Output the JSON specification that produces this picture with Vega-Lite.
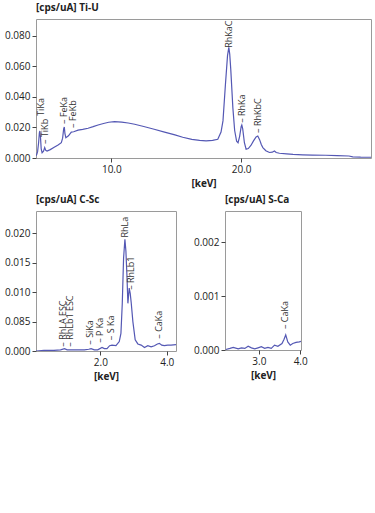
{
  "$schema": "https://vega.github.io/schema/vega-lite/v6.json",
  "background": "white",
  "padding": {"left": 4, "top": 2, "right": 5, "bottom": 5},
  "config": {
    "font": "Open Sans",
    "view": {"stroke": "#9a9a9a", "strokeWidth": 1},
    "axis": {"grid": false, "domain": false, "tickColor": "#444", "tickSize": 4, "labelFontSize": 10, "labelColor": "#222", "labelFont": "Open Sans", "titleFont": "Open Sans", "titleFontSize": 10, "titleFontWeight": "bold", "titleColor": "#222", "labelPadding": 2, "labelOverlap": false, "labelFlush": false},
    "title": {"anchor": "start", "frame": "group", "fontSize": 10, "fontWeight": "bold", "color": "#222", "offset": 6, "font": "Open Sans"},
    "text": {"font": "Open Sans", "fontSize": 9, "color": "#333"}
  },
  "datasets": {
    "tiu": [
      {"e":4.22,"c":0.0015},{"e":4.32,"c":0.004},{"e":4.40,"c":0.010},{"e":4.46,"c":0.0165},{"e":4.50,"c":0.0177},{"e":4.55,"c":0.013},{"e":4.60,"c":0.006},{"e":4.67,"c":0.0035},{"e":4.78,"c":0.0045},{"e":4.87,"c":0.0068},{"e":4.95,"c":0.005},{"e":5.05,"c":0.0046},{"e":5.3,"c":0.0055},{"e":5.6,"c":0.007},{"e":5.9,"c":0.0085},{"e":6.15,"c":0.010},{"e":6.25,"c":0.013},{"e":6.33,"c":0.019},{"e":6.38,"c":0.0203},{"e":6.43,"c":0.016},{"e":6.50,"c":0.0133},{"e":6.7,"c":0.0145},{"e":6.92,"c":0.017},{"e":7.1,"c":0.0172},{"e":7.44,"c":0.0182},{"e":7.8,"c":0.0187},{"e":8.21,"c":0.0195},{"e":8.6,"c":0.0205},{"e":8.98,"c":0.0216},{"e":9.4,"c":0.0226},{"e":9.8,"c":0.0234},{"e":10.25,"c":0.0238},{"e":10.8,"c":0.0235},{"e":11.3,"c":0.0229},{"e":11.8,"c":0.0221},{"e":12.5,"c":0.0206},{"e":13.3,"c":0.0188},{"e":14.1,"c":0.0169},{"e":14.9,"c":0.0151},{"e":15.5,"c":0.0136},{"e":16.2,"c":0.0122},{"e":16.8,"c":0.0116},{"e":17.3,"c":0.0112},{"e":17.8,"c":0.0115},{"e":18.2,"c":0.0123},{"e":18.45,"c":0.017},{"e":18.6,"c":0.0243},{"e":18.79,"c":0.0483},{"e":18.95,"c":0.067},{"e":19.05,"c":0.0724},{"e":19.12,"c":0.068},{"e":19.2,"c":0.058},{"e":19.36,"c":0.033},{"e":19.5,"c":0.018},{"e":19.65,"c":0.011},{"e":19.76,"c":0.010},{"e":19.88,"c":0.014},{"e":20.0,"c":0.0205},{"e":20.05,"c":0.0216},{"e":20.12,"c":0.019},{"e":20.25,"c":0.01},{"e":20.38,"c":0.0058},{"e":20.55,"c":0.0062},{"e":20.75,"c":0.0082},{"e":20.95,"c":0.0112},{"e":21.15,"c":0.0138},{"e":21.28,"c":0.0144},{"e":21.42,"c":0.012},{"e":21.55,"c":0.0088},{"e":21.67,"c":0.0068},{"e":21.9,"c":0.0048},{"e":22.18,"c":0.0036},{"e":22.4,"c":0.0038},{"e":22.56,"c":0.0046},{"e":22.7,"c":0.0036},{"e":22.95,"c":0.0031},{"e":23.5,"c":0.0027},{"e":24.0,"c":0.0024},{"e":24.74,"c":0.0021},{"e":25.5,"c":0.0019},{"e":26.5,"c":0.0018},{"e":27.4,"c":0.0016},{"e":28.3,"c":0.0013},{"e":28.6,"c":0.0008},{"e":29.2,"c":0.0006},{"e":30.0,"c":0.0005}
    ],
    "csc": [
      {"e":0.06,"c":0.0000},{"e":0.3,"c":0.0001},{"e":0.6,"c":0.0001},{"e":0.8,"c":0.0002},{"e":0.92,"c":0.0004},{"e":1.0,"c":0.0002},{"e":1.12,"c":0.0002},{"e":1.3,"c":0.0002},{"e":1.52,"c":0.0002},{"e":1.65,"c":0.0003},{"e":1.72,"c":0.0004},{"e":1.82,"c":0.0002},{"e":1.92,"c":0.0002},{"e":2.05,"c":0.0006},{"e":2.12,"c":0.0004},{"e":2.2,"c":0.0004},{"e":2.28,"c":0.0009},{"e":2.35,"c":0.001},{"e":2.47,"c":0.0009},{"e":2.57,"c":0.0016},{"e":2.62,"c":0.003},{"e":2.66,"c":0.008},{"e":2.70,"c":0.0158},{"e":2.74,"c":0.019},{"e":2.77,"c":0.017},{"e":2.80,"c":0.013},{"e":2.83,"c":0.0081},{"e":2.87,"c":0.0107},{"e":2.90,"c":0.0098},{"e":2.93,"c":0.0082},{"e":2.98,"c":0.005},{"e":3.05,"c":0.0019},{"e":3.13,"c":0.0012},{"e":3.23,"c":0.001},{"e":3.33,"c":0.0006},{"e":3.43,"c":0.0009},{"e":3.53,"c":0.0007},{"e":3.63,"c":0.0009},{"e":3.72,"c":0.0012},{"e":3.78,"c":0.0013},{"e":3.85,"c":0.001},{"e":3.93,"c":0.0009},{"e":4.03,"c":0.001},{"e":4.13,"c":0.001},{"e":4.28,"c":0.0011}
    ],
    "sca": [
      {"e":2.20,"c":0.00001},{"e":2.30,"c":0.00003},{"e":2.38,"c":0.00005},{"e":2.50,"c":0.00002},{"e":2.58,"c":0.00004},{"e":2.66,"c":0.00003},{"e":2.74,"c":0.00007},{"e":2.82,"c":0.00004},{"e":2.90,"c":0.00002},{"e":2.98,"c":0.00004},{"e":3.06,"c":0.00006},{"e":3.14,"c":0.00003},{"e":3.22,"c":0.00005},{"e":3.30,"c":0.00003},{"e":3.38,"c":0.00009},{"e":3.46,"c":0.00007},{"e":3.56,"c":0.00012},{"e":3.61,"c":0.0002},{"e":3.65,"c":0.00028},{"e":3.70,"c":0.00015},{"e":3.76,"c":0.00009},{"e":3.82,"c":0.00012},{"e":3.90,"c":0.00014},{"e":3.98,"c":0.00015},{"e":4.02,"c":0.00016}
    ],
    "lab1": [
      {"e":4.62,"c":0.0276,"t":"TiKa"},
      {"e":4.87,"c":0.0092,"t":"– TiKb"},
      {"e":6.33,"c":0.0223,"t":"– FeKa"},
      {"e":7.05,"c":0.0197,"t":"– FeKb"},
      {"e":19.05,"c":0.0722,"t":"RhKaC"},
      {"e":20.05,"c":0.023,"t":"– RhKa"},
      {"e":21.28,"c":0.0164,"t":"– RhKbC"}
    ],
    "lab2": [
      {"e":0.88,"c":0.00073,"t":"– RhLA ESC"},
      {"e":1.07,"c":0.00073,"t":"– RhLb1 ESC"},
      {"e":1.70,"c":0.00107,"t":"– SiKa"},
      {"e":2.00,"c":0.0014,"t":"– P Ka"},
      {"e":2.32,"c":0.00184,"t":"– S Ka"},
      {"e":2.74,"c":0.0193,"t":"RhLa"},
      {"e":2.92,"c":0.0104,"t":"– RhLb1"},
      {"e":3.78,"c":0.0021,"t":"– CaKa"}
    ],
    "lab3": [
      {"e":3.64,"c":0.00039,"t":"– CaKa"}
    ]
  },
  "vconcat": [
    {
      "title": "[cps/uA] Ti-U",
      "width": 335,
      "height": 139,
      "encoding": {
        "x": {"field": "e", "type": "quantitative", "scale": {"domain": [4.2, 30], "nice": false, "zero": false}, "axis": {"values": [10, 20], "format": ".1f", "title": "[keV]"}},
        "y": {"field": "c", "type": "quantitative", "scale": {"domain": [0, 0.091], "nice": false}, "axis": {"values": [0, 0.02, 0.04, 0.06, 0.08], "format": ".3f", "title": null, "labelOverlap": false, "tickCount": 5}}
      },
      "layer": [
        {
          "data": {"name": "tiu"},
          "mark": {"type": "line", "color": "#5458b4", "strokeWidth": 1.2, "clip": true}
        },
        {
          "data": {"name": "lab1"},
          "mark": {"type": "text", "angle": 270, "align": "left", "baseline": "middle"},
          "encoding": {"text": {"field": "t"}}
        }
      ]
    },
    {
      "hconcat": [
        {
          "title": "[cps/uA] C-Sc",
          "width": 140,
          "height": 140,
          "encoding": {
            "x": {"field": "e", "type": "quantitative", "scale": {"domain": [0.06, 4.28], "nice": false, "zero": false}, "axis": {"values": [2, 4], "format": ".1f", "title": "[keV]"}},
            "y": {"field": "c", "type": "quantitative", "scale": {"domain": [0, 0.0238], "nice": false}, "axis": {"values": [0, 0.005, 0.01, 0.015, 0.02], "labelExpr": "datum.value == 0.005 ? '0.085' : format(datum.value, '.3f')", "title": null, "labelOverlap": false, "tickCount": 5}}
          },
          "layer": [
            {
              "data": {"name": "csc"},
              "mark": {"type": "line", "color": "#5458b4", "strokeWidth": 1.2, "clip": true}
            },
            {
              "data": {"name": "lab2"},
              "mark": {"type": "text", "angle": 270, "align": "left", "baseline": "middle"},
              "encoding": {"text": {"field": "t"}}
            }
          ]
        },
        {
          "title": "[cps/uA] S-Ca",
          "width": 76,
          "height": 139,
          "encoding": {
            "x": {"field": "e", "type": "quantitative", "scale": {"domain": [2.18, 4.02], "nice": false, "zero": false}, "axis": {"values": [3, 4], "format": ".1f", "title": "[keV]"}},
            "y": {"field": "c", "type": "quantitative", "scale": {"domain": [0, 0.00258], "nice": false}, "axis": {"values": [0, 0.001, 0.002], "format": ".3f", "title": null}}
          },
          "layer": [
            {
              "data": {"name": "sca"},
              "mark": {"type": "line", "color": "#5458b4", "strokeWidth": 1.2, "clip": true}
            },
            {
              "data": {"name": "lab3"},
              "mark": {"type": "text", "angle": 270, "align": "left", "baseline": "middle"},
              "encoding": {"text": {"field": "t"}}
            }
          ]
        }
      ],
      "spacing": 16
    }
  ],
  "spacing": 5
}
